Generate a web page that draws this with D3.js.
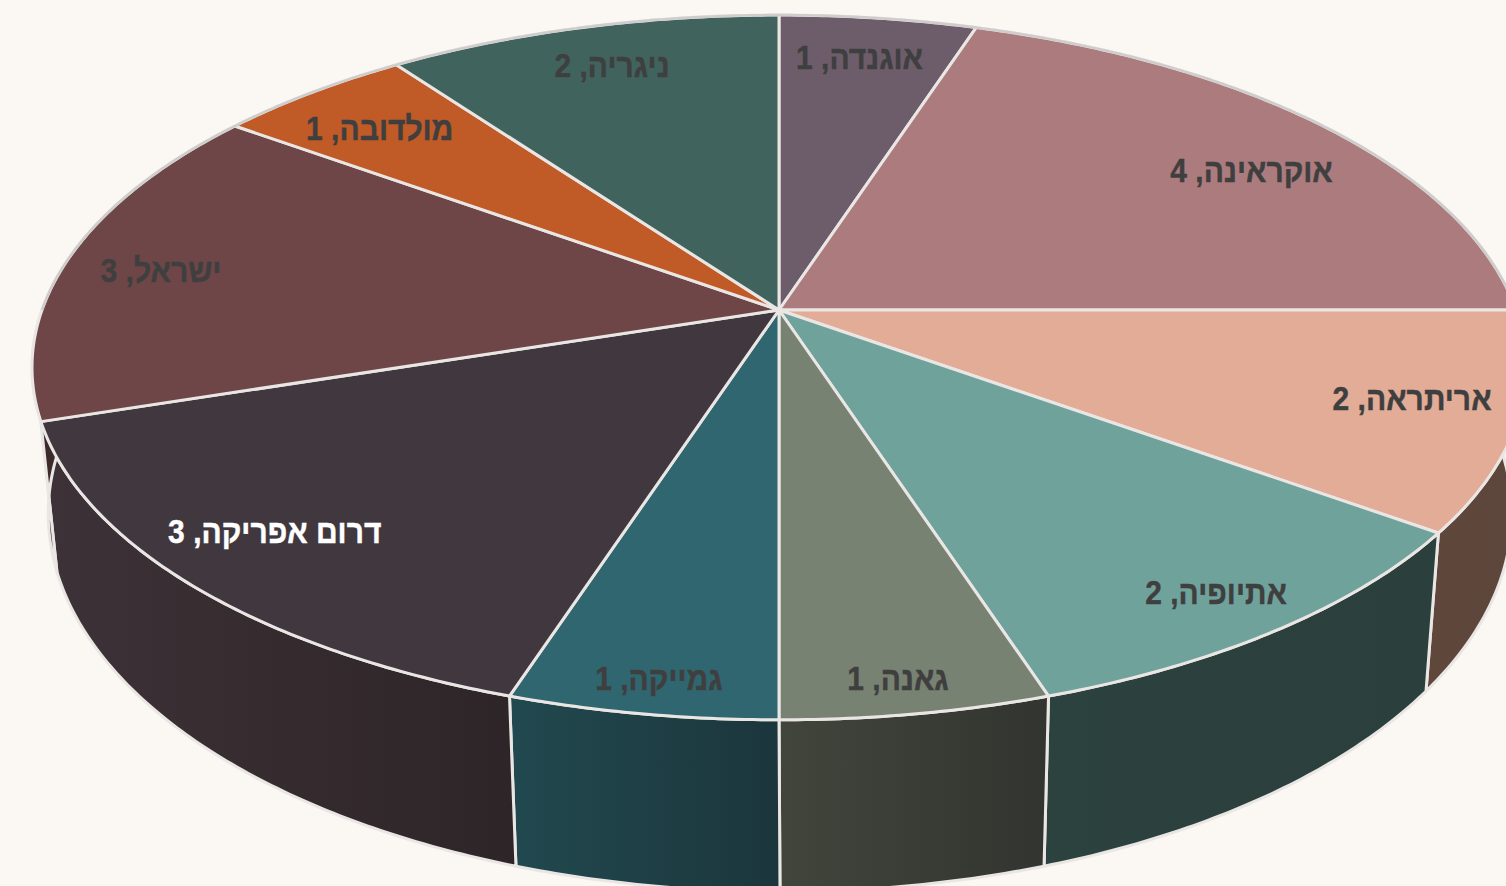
<!DOCTYPE html>
<html lang="he">
<head>
<meta charset="utf-8">
<script src="https://cdn.jsdelivr.net/npm/d3@7/dist/d3.min.js"></script>
<style>
html,body{margin:0;padding:0;background:#FBF8F4;overflow:hidden}
svg{display:block}
text{font-family:"Liberation Sans",Arial,sans-serif;font-weight:700;direction:rtl}
</style>
</head>
<body>
<svg id="chart" width="1506" height="886"></svg>
<script>
const categories = ["אוגנדה","אוקראינה","אריתראה","אתיופיה","גאנה","גמייקה","דרום אפריקה","ישראל","מולדובה","ניגריה"];
const values = [1,4,2,2,1,1,3,3,1,2];
const topColors = ["#6D5D6A","#AC7B7E","#E2AC96","#70A29C","#788272","#30666F","#41373E","#6E4648","#C05A27","#40635E"];
const sideLeft  = ["#4A3F48","#755355","#5F473C","#2C423E","#42453C","#21494F","#3C3237","#3D2A2C","#7E3B19","#2A423E"];
const sideRight = ["#443A42","#6B4C4E","#5C453A","#2B3F3C","#32352F","#1B363C","#2E2528","#3A2729","#763716","#273D3A"];
const labelColors = ["#3F3F3F","#3F3F3F","#3F3F3F","#3F3F3F","#3F3F3F","#3F3F3F","#FFFFFF","#3F3F3F","#3F3F3F","#3F3F3F"];
const labelRadius = [0.8475,0.8145,0.8605,0.894,0.9235,0.9237,0.8507,0.863,0.83,0.848];
const labelShift  = [-0.57,3.5,-1.37,0.2,0.44,-0.37,1.7,-1.1,-0.6,0.4];

const svg = d3.select("#chart");
const defs = svg.append("defs");

// perspective view of the flat pie: one plane for the top face, one for the base
const topPlane  = {cx:779, cy:310, a:737, b:343, k:0.163};
const basePlane = {cx:780, cy:452, a:722, b:368, k:0.163};
function project(angle, r, p){
  const u = r*Math.sin(angle), v = r*Math.cos(angle), d = 1 + p.k*v;
  return [p.cx + p.a*u/d, p.cy - p.b*v/d];
}
const arcs = d3.pie().sort(null).value(d=>d).startAngle(0).endAngle(2*Math.PI)(values);
const line = d3.line();
const sweep = (a0,a1,p) => {
  const n = Math.max(2, Math.ceil((a1-a0)/0.01));
  return d3.range(n+1).map(i => project(a0+(a1-a0)*i/n, 1, p));
};

const edge = "#E9E6E4";

// side walls
arcs.forEach((d,i)=>{
  const g = defs.append("linearGradient").attr("id","side"+i);
  g.append("stop").attr("offset","0%").attr("stop-color",sideLeft[i]);
  g.append("stop").attr("offset","100%").attr("stop-color",sideRight[i]);
});
svg.append("g").selectAll("path").data(arcs).join("path")
  .attr("d", d => line(sweep(d.startAngle,d.endAngle,topPlane).concat(sweep(d.startAngle,d.endAngle,basePlane).reverse()))+"Z")
  .attr("fill",(d,i)=>`url(#side${i})`)
  .attr("stroke",edge).attr("stroke-width",3).attr("stroke-linejoin","round");

// top face
svg.append("g").selectAll("path").data(arcs).join("path")
  .attr("d", d => line([project(0,0,topPlane)].concat(sweep(d.startAngle,d.endAngle,topPlane)))+"Z")
  .attr("fill",(d,i)=>topColors[i])
  .attr("stroke",edge).attr("stroke-width",3).attr("stroke-linejoin","round");

// rim of the top face
svg.append("path")
  .attr("d", line(sweep(-Math.PI/2,Math.PI/2,topPlane)))
  .attr("fill","none").attr("stroke","#CFCDCB").attr("stroke-width",2.5);

// labels
const labelAt = (d,i) => project((d.startAngle+d.endAngle)/2 + labelShift[i]*Math.PI/180, labelRadius[i], topPlane);
svg.append("g").selectAll("text").data(arcs).join("text")
  .attr("transform",(d,i)=>{const p=labelAt(d,i);return `translate(${p[0]},${p[1]}) scale(1,1.12)`;})
  .attr("dy","0.36em")
  .attr("text-anchor","middle")
  .attr("font-size",30)
  .attr("fill",(d,i)=>labelColors[i])
  .attr("stroke",(d,i)=>labelColors[i]).attr("stroke-width",0.4)
  .text((d,i)=>`${categories[i]}, ${values[i]}`);
</script>
</body>
</html>
